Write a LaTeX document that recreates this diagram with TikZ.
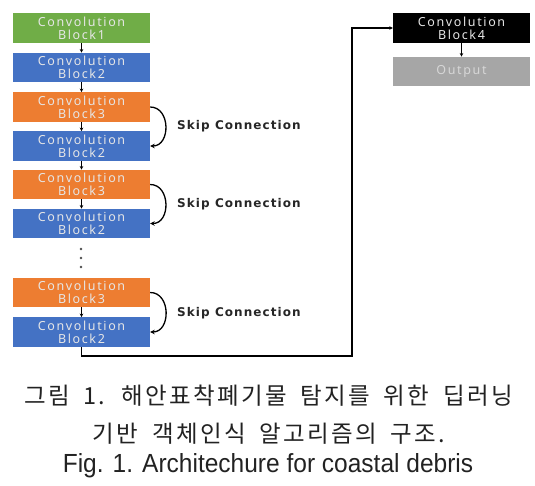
\documentclass[tikz,border=0pt]{standalone}
\usepackage{fontspec}
\usepackage{graphicx}
\setmainfont{Liberation Sans}
\newfontfamily\boxfont[LetterSpace=13]{Noto Sans}
\newfontfamily\skipfont[LetterSpace=9]{DejaVu Sans Bold}
\newfontfamily\krfont[LetterSpace=10,WordSpace=1.8]{Noto Sans CJK KR}
\usetikzlibrary{arrows.meta}
\definecolor{cgreen}{HTML}{70AD47}
\definecolor{cblue}{HTML}{4472C4}
\definecolor{corange}{HTML}{ED7D31}
\definecolor{cgray}{HTML}{A6A6A6}
\definecolor{ctext}{HTML}{E6E6E6}
\definecolor{capcol}{HTML}{222222}
\tikzset{
  blk/.style={minimum width=137pt, minimum height=29.5pt, inner sep=0pt, align=center,
    text=ctext, font=\boxfont\fontsize{12.5}{13}\selectfont},
  flow/.style={-{Stealth[length=3.5pt,width=3.5pt]}, line width=0.9pt, black},
  skiparc/.style={-{Stealth[length=4.5pt,width=4.5pt]}, line width=1.3pt, black, out=0, in=0, looseness=1.35},
  skiplab/.style={anchor=west, inner sep=0pt, text=black!85, font=\skipfont\fontsize{12}{13}\selectfont},
  captext/.style={inner sep=0pt, anchor=base, text=capcol},
  dotmark/.style={circle, fill=black!70, inner sep=0pt, minimum size=2.6pt}
}
\begin{document}
\begin{tikzpicture}[x=1pt,y=-1pt]
\useasboundingbox (0,0) rectangle (535,486);
\node[blk, fill=cgreen] (b1) at (81.5,28) {Convolution\\Block1};
\node[blk, fill=cblue] (b2a) at (81.5,67.5) {Convolution\\Block2};
\node[blk, fill=corange] (b3a) at (81.5,107) {Convolution\\Block3};
\node[blk, fill=cblue] (b2b) at (81.5,146) {Convolution\\Block2};
\node[blk, fill=corange] (b3b) at (81.5,184.5) {Convolution\\Block3};
\node[blk, fill=cblue] (b2c) at (81.5,223.5) {Convolution\\Block2};
\node[dotmark] (d1) at (81,249) {};
\node[dotmark] (d2) at (81,258) {};
\node[dotmark] (d3) at (81,267) {};
\node[blk, fill=corange] (b3c) at (81.5,292.5) {Convolution\\Block3};
\node[blk, fill=cblue] (b2d) at (81.5,332) {Convolution\\Block2};
\node[blk, fill=black] (b4) at (461.5,28) {Convolution\\Block4};
\node[blk, fill=cgray, text=ctext!85!gray] (out) at (461.5,71.5) {Output};

\draw[flow] (b1) -- (b2a);
\draw[flow] (b2a) -- (b3a);
\draw[flow] (b3a) -- (b2b);
\draw[flow] (b2b) -- (b3b);
\draw[flow] (b3b) -- (b2c);
\draw[flow] (b3c) -- (b2d);
\draw[flow] (b4) -- (out);

\draw[skiparc] (b3a.east) to (b2b.east);
\draw[skiparc] (b3b.east) to (b2c.east);
\draw[skiparc] (b3c.east) to (b2d.east);
\node[skiplab] (s1) at (177,126.5) {Skip Connection};
\node[skiplab] (s2) at (177,204) {Skip Connection};
\node[skiplab] (s3) at (177,313) {Skip Connection};

\coordinate (c1) at (352,356);
\draw[flow, line width=1.1pt] (b2d.south) |- (c1) |- (b4.west);

\node[captext, font=\krfont\fontsize{23.5}{26}\selectfont] (cap1) at (268.5,404) {그림 1. 해안표착폐기물 탐지를 위한 딥러닝};
\node[captext, font=\krfont\fontsize{23.5}{26}\selectfont] (cap2) at (269,442) {기반 객체인식 알고리즘의 구조.};
\node[captext, font=\fontsize{24.5}{28}\selectfont] (cap3) at (268,472) {\scalebox{1}[1.07]{Fig. 1. Architechure for coastal debris}};
\end{tikzpicture}
\end{document}
